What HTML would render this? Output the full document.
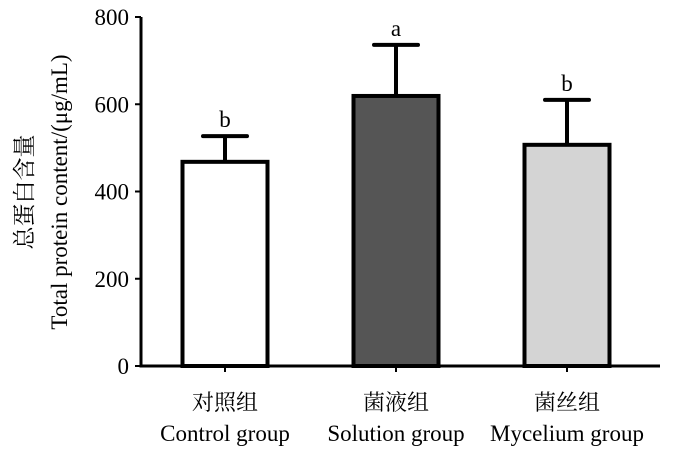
<!DOCTYPE html>
<html><head><meta charset="utf-8"><style>
body{margin:0;background:#fff}
svg text{font-family:"Liberation Serif","Noto Serif CJK SC",serif;fill:#000}
</style></head><body>
<svg width="700" height="467" viewBox="0 0 700 467">
<g id="chart"></g>
</svg>
<script>
const categoriesCn=["对照组","菌液组","菌丝组"];
const categoriesEn=["Control group","Solution group","Mycelium group"];
const values=[468,619,507];
const errors=[59,117,103];
const letters=["b","a","b"];
const fills=["#ffffff","#555555","#d4d4d4"];
const yTicks=[0,200,400,600,800];
const NS="http://www.w3.org/2000/svg";
const g=document.getElementById('chart');
const x0=141,y0=366,yTop=17,yMax=800;
const y=v=>y0-(y0-yTop)*v/yMax;
const bx=i=>225+i*171;
const bw=85;
function mk(t,a,txt){const e=document.createElementNS(NS,t);for(const k in a)e.setAttribute(k,a[k]);if(txt!==undefined)e.textContent=txt;g.appendChild(e);return e;}
let e;
e=mk('line',{x1:x0,y1:yTop,x2:x0,y2:y0+1.5,stroke:'#000','stroke-width':3});


e=mk('line',{x1:x0-1.5,y1:y0,x2:660,y2:y0,stroke:'#000','stroke-width':3});


yTicks.forEach(v=>{
 e=mk('line',{x1:x0-6,y1:y(v),x2:x0,y2:y(v),stroke:'#000','stroke-width':2});
 
 
 e=mk('text',{x:129,y:y(v)+8,'text-anchor':'end','font-size':23},v);
 
 
});
values.forEach((v,i)=>{
 const cx=bx(i);
 e=mk('line',{x1:cx,y1:y(v),x2:cx,y2:y(v+errors[i]),stroke:'#000','stroke-width':4});
 
 
 e=mk('line',{x1:cx-22,y1:y(v+errors[i]),x2:cx+22,y2:y(v+errors[i]),stroke:'#000','stroke-width':4,'stroke-linecap':'round'});
 
 
 e=mk('rect',{x:cx-bw/2,y:y(v),width:bw,height:y0-y(v),fill:fills[i],stroke:'#000','stroke-width':4});
 
 
 e=mk('text',{x:cx,y:y(v+errors[i])-9,'text-anchor':'middle','font-size':23},letters[i]);
 
 
 e=mk('line',{x1:cx,y1:y0,x2:cx,y2:y0+6,stroke:'#000','stroke-width':2});
 
 
 e=mk('text',{x:cx,y:410,'text-anchor':'middle','font-size':22},categoriesCn[i]);
 
 
 e=mk('text',{x:cx,y:441,'text-anchor':'middle','font-size':23},categoriesEn[i]);
 
 
});
e=mk('text',{x:32,y:192,'text-anchor':'middle','font-size':23,transform:'rotate(-90 32 192)'},'总蛋白含量');


e=mk('text',{x:67,y:192,'text-anchor':'middle','font-size':23,transform:'rotate(-90 67 192)'},'Total protein content/(μg/mL)');


</script>
</body></html>
